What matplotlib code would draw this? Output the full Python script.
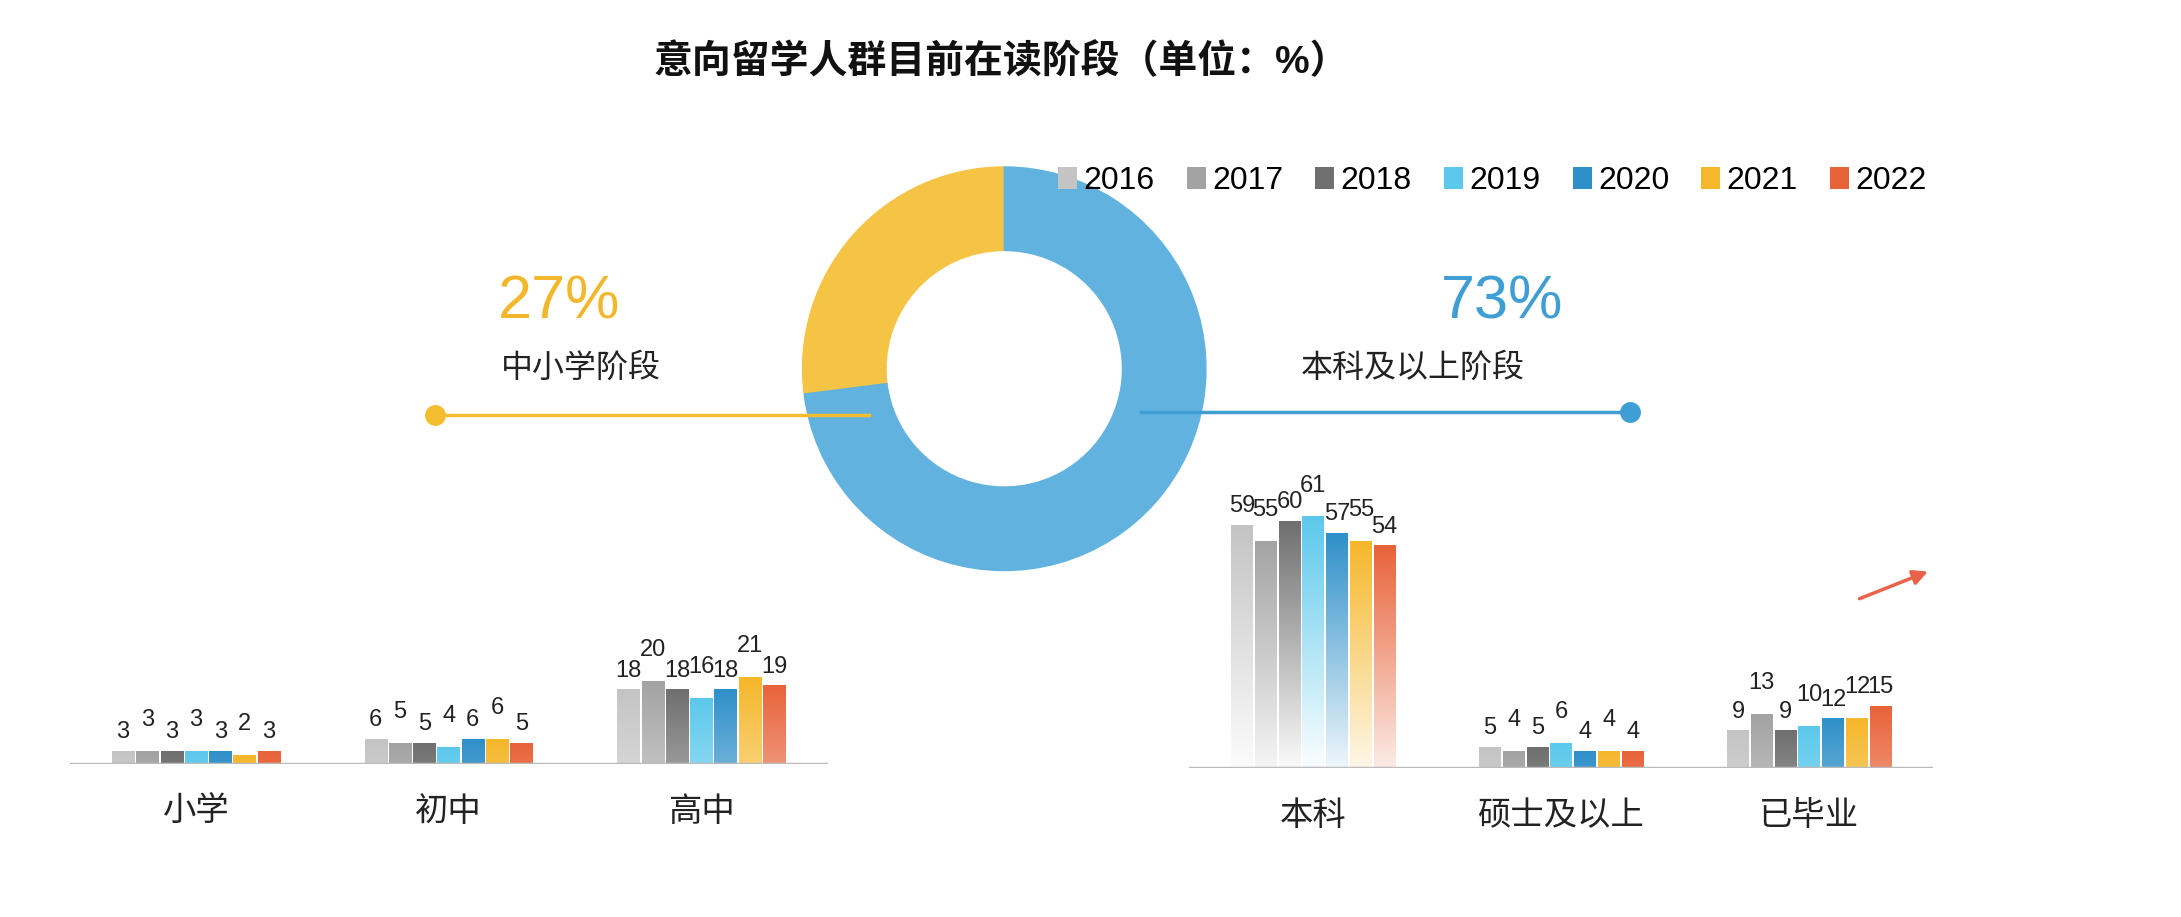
import numpy as np
import matplotlib.pyplot as plt
from matplotlib.patches import Patch, Wedge
from matplotlib.colors import to_rgb

plt.rcParams['font.family'] = ['Liberation Sans', 'Noto Sans CJK SC', 'DejaVu Sans']

years = ['2016', '2017', '2018', '2019', '2020', '2021', '2022']
colors = ['#c4c4c4', '#a3a3a3', '#6f6f6f', '#5cc8ec', '#2f90c9', '#f5b72b', '#e8633a']

left_cats = ['小学', '初中', '高中']
left_vals = [[3, 3, 3, 3, 3, 2, 3],
             [6, 5, 5, 4, 6, 6, 5],
             [18, 20, 18, 16, 18, 21, 19]]
right_cats = ['本科', '硕士及以上', '已毕业']
right_vals = [[59, 55, 60, 61, 57, 55, 54],
              [5, 4, 5, 6, 4, 4, 4],
              [9, 13, 9, 10, 12, 12, 15]]

share_labels = ['中小学阶段', '本科及以上阶段']
share_vals = [27, 73]

W, H = 1568, 659
fig = plt.figure(figsize=(21.81, 9.17), dpi=100)


def rect(x0, y0, x1, y1):
    return [x0 / W, 1 - y1 / H, (x1 - x0) / W, (y1 - y0) / H]


def bars(ax, cats, vals):
    bw = 0.096
    for i, row in enumerate(vals):
        for j, v in enumerate(row):
            x0 = i + (j - 3) * bw - bw / 2 + 0.004
            x1 = x0 + bw - 0.008
            c = np.array(to_rgb(colors[j]))
            n = 100
            ys = np.linspace(0, v, n)
            f = np.clip(1 - (v - ys) / 62.0, 0.05, 1)[:, None]
            img = c * f + (1 - f) * np.array([1.0, 1.0, 1.0])
            ax.imshow(img[:, None, :], extent=[x0, x1, 0, v], origin='lower',
                      aspect='auto', zorder=2)
            off = 2.0 + (3.0 if j % 2 else 0)
            ax.text((x0 + x1) / 2, v + off, str(v), ha='center', va='bottom',
                    fontsize=17, color='#222222')
        ax.text(i, -8, cats[i], ha='center', va='top', fontsize=24, color='#222222')
    ax.axhline(0, color='#bbbbbb', lw=2.5, zorder=3)
    ax.set_xlim(-0.5, 2.5)
    ax.set_ylim(0, 70)
    ax.axis('off')


axl = fig.add_axes(rect(50, 342, 595, 549))
bars(axl, left_cats, left_vals)
axr = fig.add_axes(rect(855, 345, 1390, 552))
bars(axr, right_cats, right_vals)

# donut
axd = fig.add_axes([0, 0, 1, 1])
axd.set_xlim(0, W)
axd.set_ylim(H, 0)
axd.axis('off')
cx, cy, ro, ri = 722, 265, 145, 85
a_y = 90 + 360 * share_vals[0] / 100
axd.add_patch(Wedge((cx, cy), ro, -a_y, -90, width=ro - ri, color='#f6c445', zorder=2))
axd.add_patch(Wedge((cx, cy), ro, -90, 360 - a_y, width=ro - ri, color='#62b2df', zorder=2))

axd.plot([313, 625], [298, 298], color='#f3bd2f', lw=2.5, zorder=3)
axd.plot([313], [298], 'o', color='#f3bd2f', ms=14)
axd.plot([820, 1172], [296, 296], color='#3f9ed3', lw=2.5, zorder=3)
axd.plot([1172], [296], 'o', color='#3f9ed3', ms=14)
axd.text(358, 218, f'{share_vals[0]}%', fontsize=44, color='#f3b72b', ha='left', va='center')
axd.text(360, 265, share_labels[0], fontsize=23, color='#222222', ha='left', va='center')
axd.text(1036, 218, f'{share_vals[1]}%', fontsize=44, color='#3f9ed3', ha='left', va='center')
axd.text(935, 265, share_labels[1], fontsize=23, color='#222222', ha='left', va='center')
axd.annotate('', xy=(1388, 410), xytext=(1335, 431),
             arrowprops=dict(arrowstyle='-|>', color='#e8634a', lw=2.5, mutation_scale=22))

fig.text(720 / W, 1 - 45 / H, '意向留学人群目前在读阶段（单位：%）', ha='center', va='center',
         fontsize=28, fontweight='bold', color='#111111')

handles = [Patch(facecolor=c, edgecolor='none') for c in colors]
fig.legend(handles, years, loc='center', bbox_to_anchor=(1073 / W, 1 - 130 / H), ncol=7,
           frameon=False, fontsize=23, handlelength=0.6, handleheight=0.7,
           handletextpad=0.2, columnspacing=1.0)

fig.savefig('out.png', dpi=100)
